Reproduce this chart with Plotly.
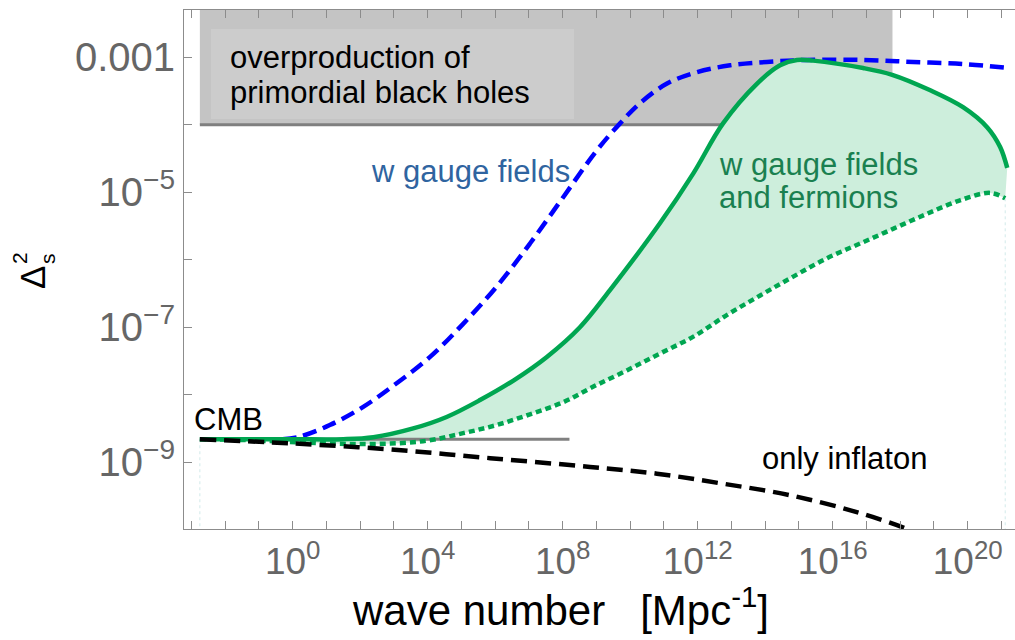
import numpy as np
import plotly.graph_objects as go

# ---- data (log10 of k [Mpc^-1] and log10 of Delta_s^2) ----
inflaton_log_k = [-2.75, -0.08, 2.88, 5.85, 8.81, 10.79, 12.76, 14.74, 16.71, 18.29, 18.8]
inflaton_log_p = [-8.66, -8.72, -8.81, -8.94, -9.07, -9.17, -9.32, -9.49, -9.74, -10.01, -10.15]

gauge_log_k = [-0.3, 0.22, 1.1, 2.09, 3.08, 4.07, 5.05, 6.04, 7.03, 8.02, 9.01, 9.70,
               10.29, 11.09, 11.98, 12.96, 14.05, 15.24, 16.9, 18.38, 19.86, 21.2]
gauge_log_p = [-8.66, -8.62, -8.45, -8.18, -7.83, -7.44, -6.95, -6.40, -5.76, -5.07, -4.38, -3.98,
               -3.68, -3.39, -3.22, -3.12, -3.07, -3.04, -3.04, -3.07, -3.10, -3.16]

ferm_upper_log_k = [-2.75, -0.08, 1.5, 2.39, 3.57, 4.56, 5.55, 6.54, 7.53, 8.51, 9.40,
                    10.88, 11.87, 12.75, 13.76, 14.44, 14.94, 15.42, 16.9, 17.76, 18.89,
                    19.86, 20.58, 20.96, 21.17]
ferm_upper_log_p = [-8.66, -8.66, -8.66, -8.63, -8.50, -8.33, -8.08, -7.79, -7.44, -7.00, -6.45,
                    -5.46, -4.72, -3.98, -3.39, -3.12, -3.04, -3.05, -3.16, -3.26, -3.49,
                    -3.74, -4.04, -4.33, -4.64]

ferm_lower_log_k = [-2.75, -1.56, 0.9, 2.38, 3.86, 5.05, 6.04, 7.03, 8.02, 8.91, 9.90, 10.88,
                    11.87, 12.86, 13.85, 14.83, 15.82, 16.81, 17.80, 18.79, 19.77, 20.66, 21.11]
ferm_lower_log_p = [-8.66, -8.67, -8.72, -8.73, -8.69, -8.57, -8.45, -8.29, -8.11, -7.88, -7.64, -7.39,
                    -7.14, -6.82, -6.53, -6.25, -5.98, -5.76, -5.54, -5.32, -5.12, -5.01, -5.09]

cmb_log_p = -8.66
cmb_log_k_range = [-2.75, 8.2]
pbh_log_p = -4.0
pbh_log_k_range = [-2.75, 17.77]

x_tick_exps = list(range(-3, 22))
x_label_exps = [0, 4, 8, 12, 16, 20]
y_tick_exps = list(range(-10, -2))
y_tick_text = {-3: "0.001", -5: "10<sup>\u22125</sup>", -7: "10<sup>\u22127</sup>", -9: "10<sup>\u22129</sup>"}

def p10(v):
    return np.power(10.0, np.asarray(v, dtype=float))

FONT = "Liberation Sans, Arial, sans-serif"
GREEN = "#00a651"
fig = go.Figure()

# PBH overproduction region
fig.add_trace(go.Scatter(
    x=p10([pbh_log_k_range[0], pbh_log_k_range[1], pbh_log_k_range[1], pbh_log_k_range[0]]),
    y=p10([pbh_log_p, pbh_log_p, -1.0, -1.0]),
    fill="toself", fillcolor="#c4c4c4", line=dict(width=0), mode="lines",
    hoverinfo="skip", showlegend=False))
fig.add_trace(go.Scatter(
    x=p10(pbh_log_k_range), y=p10([pbh_log_p, pbh_log_p]), mode="lines",
    line=dict(color="#7f7f7f", width=3), showlegend=False))

# faint edges of the fermion band
fig.add_trace(go.Scatter(
    x=p10([ferm_lower_log_k[0], ferm_lower_log_k[0]]), y=p10([ferm_lower_log_p[0], -11]),
    mode="lines", line=dict(color="#d2eaea", width=1, dash="3px,3px"), showlegend=False))
fig.add_trace(go.Scatter(
    x=p10([ferm_lower_log_k[-1], ferm_lower_log_k[-1]]), y=p10([ferm_lower_log_p[-1], -11]),
    mode="lines", line=dict(color="#d2eaea", width=1, dash="3px,3px"), showlegend=False))

# fermion band fill
fig.add_trace(go.Scatter(
    x=p10(ferm_lower_log_k), y=p10(ferm_lower_log_p), mode="lines",
    line=dict(width=0, shape="spline"), showlegend=False, hoverinfo="skip"))
fig.add_trace(go.Scatter(
    x=p10(ferm_upper_log_k), y=p10(ferm_upper_log_p), mode="lines", fill="tonexty",
    fillcolor="#cdeedc", line=dict(width=0, shape="spline"), showlegend=False, hoverinfo="skip"))

# gauge fields (blue dashed)
fig.add_trace(go.Scatter(
    x=p10(gauge_log_k), y=p10(gauge_log_p), mode="lines",
    line=dict(color="#0000ff", width=4.5, dash="14px,7px", shape="spline"), showlegend=False))

# CMB
fig.add_trace(go.Scatter(
    x=p10(cmb_log_k_range), y=p10([cmb_log_p, cmb_log_p]), mode="lines",
    line=dict(color="#808080", width=3), showlegend=False))

# fermions upper (solid) and lower (dotted)
fig.add_trace(go.Scatter(
    x=p10(ferm_upper_log_k), y=p10(ferm_upper_log_p), mode="lines",
    line=dict(color=GREEN, width=4.5, shape="spline"), showlegend=False))
fig.add_trace(go.Scatter(
    x=p10(ferm_lower_log_k), y=p10(ferm_lower_log_p), mode="lines",
    line=dict(color=GREEN, width=4.5, dash="6px,4px", shape="spline"), showlegend=False))

# only inflaton (black dashed)
fig.add_trace(go.Scatter(
    x=p10(inflaton_log_k), y=p10(inflaton_log_p), mode="lines",
    line=dict(color="#000000", width=4.5, dash="16px,8px", shape="spline"), showlegend=False))

L, R, T, B = 184, 0, 10, 111
W, H = 1015, 640
pw, ph = W - L - R, H - T - B

def px(x):
    return (x - L) / pw

def py(y):
    return (H - B - y) / ph

fig.add_shape(type="rect", xref="paper", yref="paper",
              x0=px(211), x1=px(574), y0=py(119), y1=py(29),
              fillcolor="#cccccc", line=dict(width=0), layer="above")

ann = []
def text(s, x, y, color="#000000", size=31, xanchor="left", yanchor="middle", angle=0):
    ann.append(dict(text=s, x=px(x), y=py(y), xref="paper", yref="paper", showarrow=False,
                    xanchor=xanchor, yanchor=yanchor, textangle=angle,
                    font=dict(family=FONT, size=size, color=color)))

text("overproduction of", 228, 58)
text("primordial black holes", 228, 92)
text("w gauge fields", 572, 172, color="#2f64a0", xanchor="right")
text("w gauge fields", 717, 164, color="#1a8050")
text("and fermions", 717, 198, color="#1a8050")
text("CMB", 192, 419)
text("only inflaton", 760, 458)
text("wave number   [Mpc<sup>-1</sup>]", 560, 607, size=42, xanchor="center")
# y-axis title: Delta with stacked superscript 2 and subscript s
text("\u0394", 32, 278, size=35, xanchor="center", angle=-90)
text("2", 19, 258, size=21, xanchor="center", angle=-90)
text("s", 47, 259, size=21, xanchor="center", angle=-90)

fig.update_layout(
    width=W, height=H, margin=dict(l=L, r=R, t=T, b=B),
    paper_bgcolor="white", plot_bgcolor="white",
    annotations=ann, showlegend=False,
    xaxis=dict(type="log", range=[-3.22, 21.40], showgrid=False, zeroline=False,
               showline=True, linecolor="#8c8c8c", linewidth=1, mirror="ticks",
               ticks="inside", ticklen=8, tickcolor="#8c8c8c", tickwidth=1,
               tickvals=list(p10(x_tick_exps)),
               ticktext=[("10<sup>%d</sup>" % e) if e in x_label_exps else "" for e in x_tick_exps],
               tickfont=dict(family=FONT, size=37, color="#666666")),
    yaxis=dict(type="log", range=[-9.99, -2.30], showgrid=False, zeroline=False,
               showline=True, linecolor="#8c8c8c", linewidth=1, mirror=False,
               ticks="inside", ticklen=8, tickcolor="#8c8c8c", tickwidth=1,
               tickvals=list(p10(y_tick_exps)),
               ticktext=[y_tick_text.get(e, "") for e in y_tick_exps],
               tickfont=dict(family=FONT, size=40, color="#666666")),
)

fig.write_html("out.html", config={"displayModeBar": False},
               post_script="document.body.style.margin='0px';")
